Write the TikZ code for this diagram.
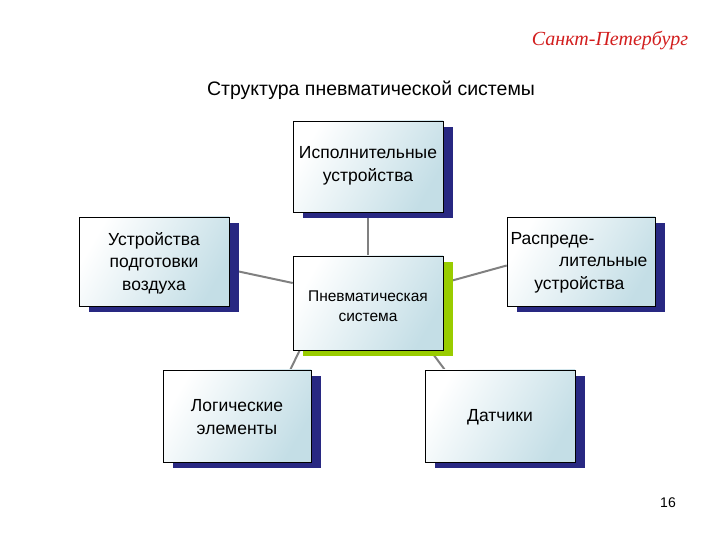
\documentclass[tikz,border=0pt]{standalone}
\usepackage{fontspec}
\setmainfont{Liberation Sans}
\newfontfamily\serifit{Liberation Serif}
\usetikzlibrary{shadows,backgrounds}
\definecolor{navy}{RGB}{40,40,130}
\definecolor{lime}{RGB}{153,204,0}
\definecolor{pale}{RGB}{196,222,230}
\definecolor{cityred}{RGB}{210,30,30}
\tikzset{
 box/.style={draw=black,line width=0.6pt,minimum width=#1,inner sep=0pt,
   left color=white,right color=pale,shading angle=60,
   drop shadow={shadow xshift=10pt,shadow yshift=-6pt,fill=navy,opacity=1}},
 greenbox/.style={box=150pt,drop shadow={shadow xshift=10pt,shadow yshift=-6pt,fill=lime,opacity=1}},
 lbl/.style={font=\fontsize{17.5}{22.5}\selectfont,align=center},
 conn/.style={draw=gray,line width=2pt}
}
\begin{document}
\begin{tikzpicture}[x=1pt,y=1pt]
\useasboundingbox (0,0) rectangle (720,540);
\node[box=150pt,minimum height=91pt] (top) at (368,373.5) {};
\node[box=150pt,minimum height=89pt] (left) at (154,278.5) {};
\node[greenbox,minimum height=94pt] (center) at (368,237) {};
\node[box=148pt,minimum height=89pt] (right) at (581,278.5) {};
\node[box=148pt,minimum height=92pt] (bl) at (237,124) {};
\node[box=150pt,minimum height=92pt] (br) at (500,124) {};
\begin{scope}[on background layer]
\draw[conn] (top.south) -- (center.north);
\draw[conn] ([yshift=-8pt]left.east) -- ([yshift=20pt]center.west);
\draw[conn] ([yshift=20pt]center.east) -- ([yshift=-4pt]right.west);
\draw[conn] ([xshift=7pt]center.south west) -- ([xshift=-21pt]bl.north east);
\draw[conn] ([xshift=-13pt]center.south east) -- ([xshift=20pt]br.north west);
\end{scope}
\node[lbl] (ttop) at (368,374) {Исполнительные\\устройства};
\node[lbl] (tleft) at (154,277) {Устройства\\подготовки\\воздуха};
\node[font=\fontsize{15.5}{20}\selectfont,align=center] (tcenter) at (368,234) {Пневматическая\\система};
\node[lbl,anchor=east] (tr1) at (598,300) {Распреде-};
\node[lbl,anchor=east] (tr2) at (651,278) {лительные};
\node[lbl,anchor=east] (tr3) at (628,255) {устройства};
\node[lbl] (tbl) at (237,123) {Логические\\элементы};
\node[lbl] (tbr) at (500,123) {Датчики};
\node[font=\fontsize{19.5}{22}\selectfont] (title) at (371,450) {Структура пневматической системы};
\node[font=\serifit\itshape\fontsize{20}{22}\selectfont,text=cityred] (city) at (610,499) {Санкт-Петербург};
\node[font=\fontsize{14}{16}\selectfont] (page) at (668,37) {16};
\end{tikzpicture}
\end{document}
